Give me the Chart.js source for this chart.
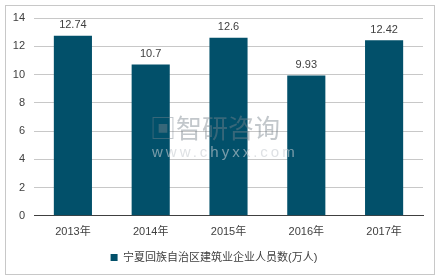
<!DOCTYPE html>
<html><head><meta charset="utf-8">
<script src="https://cdn.jsdelivr.net/npm/chart.js@4"></script>
<style>
html,body{margin:0;padding:0;background:#fff;}
#wrap{position:relative;width:441px;height:280px;}
#frame{position:absolute;left:5px;top:5px;width:428px;height:268px;border:1px solid #c8c8c8;pointer-events:none;}
#wm{position:absolute;left:150px;top:113px;font-family:"Noto Sans CJK SC";color:rgba(120,130,140,0.45);font-size:26px;line-height:28px;}
#wm2{position:absolute;left:152px;top:143px;font-family:"Liberation Sans";color:rgba(200,205,210,0.6);font-size:15px;letter-spacing:3px;}
</style></head>
<body><div id="wrap"><canvas id="c" width="441" height="280"></canvas><div id="frame"></div>
<div id="wm">▣智研咨询</div><div id="wm2">www.chyxx.com</div></div>
<script>
const categories = ["2013年","2014年","2015年","2016年","2017年"];
const values = [12.74, 10.7, 12.6, 9.93, 12.42];
const seriesName = "宁夏回族自治区建筑业企业人员数(万人)";
const yTicks = [0,2,4,6,8,10,12,14];
const FONT = '"Liberation Sans","Noto Sans CJK SC",sans-serif';

const labelPlugin = {
  id:'vlabels',
  afterDatasetsDraw(chart){
    const ctx = chart.ctx;
    const meta = chart.getDatasetMeta(0);
    ctx.save();
    ctx.font = '11px ' + FONT;
    ctx.fillStyle = '#404040';
    ctx.textAlign = 'center';
    ctx.textBaseline = 'bottom';
    meta.data.forEach((bar,i)=>{
      ctx.fillText(String(values[i]), bar.x, bar.y - 5);
    });
    ctx.restore();
  }
};

new Chart(document.getElementById('c'), {
  type:'bar',
  data:{labels:categories, datasets:[{label:seriesName, data:values, backgroundColor:'#02506a', barPercentage:0.49, categoryPercentage:1}]},
  options:{
    responsive:false, animation:false,
    layout:{padding:{top:18,left:5,right:18,bottom:7}},
    plugins:{
      legend:{position:'bottom', labels:{boxWidth:7, boxHeight:7, padding:10, color:'#404040', font:{size:11, family:FONT}}},
      tooltip:{enabled:false}
    },
    scales:{
      x:{grid:{display:false, drawTicks:false}, border:{color:'#404040', width:1},
         afterFit(s){ s.height -= 7; },
         ticks:{color:'#404040', font:{size:11, family:FONT}, padding:10}},
      y:{min:0, max:14, afterBuildTicks(s){ s.ticks = yTicks.map(v=>({value:v})); },
         afterFit(s){ s.width = 29; },
         grid:{color:'#c8c8c8', drawTicks:false}, border:{display:false},
         ticks:{color:'#404040', font:{size:11, family:FONT}, padding:9}}
    }
  },
  plugins:[labelPlugin]
});
</script></body></html>
